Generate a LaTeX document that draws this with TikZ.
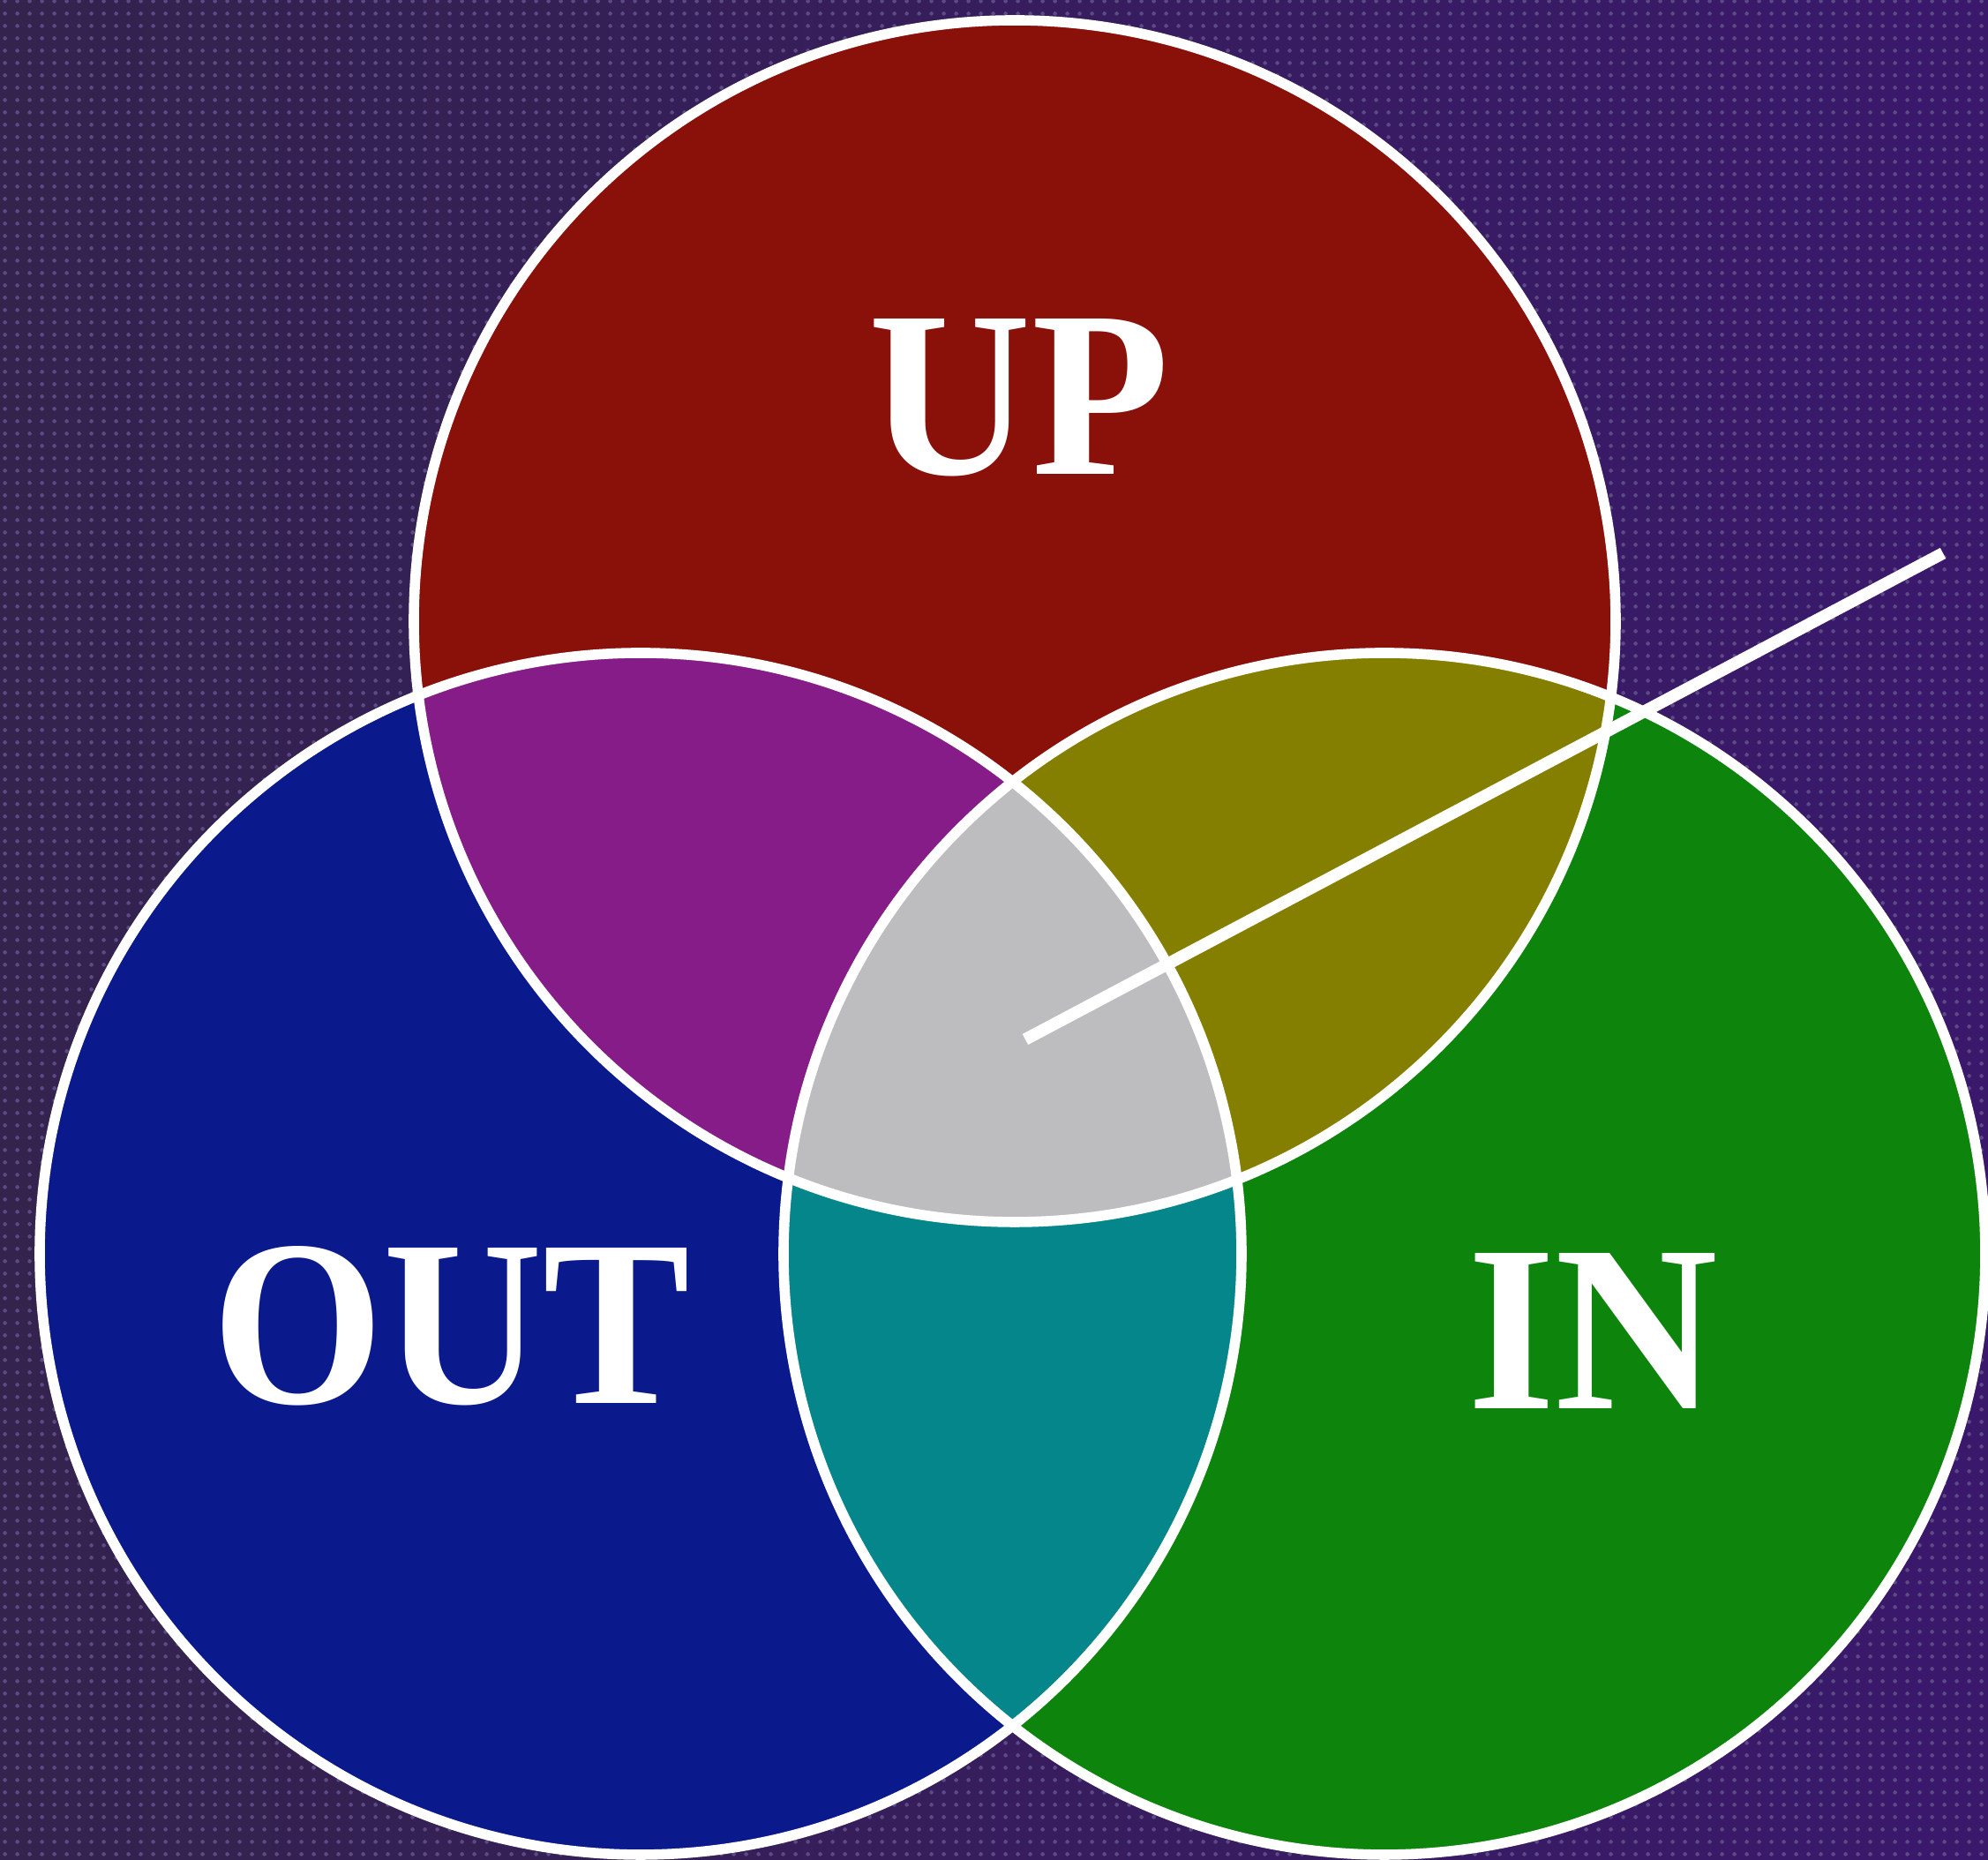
\documentclass[tikz,border=0pt]{standalone}
\usepackage{fontspec}
\setmainfont{Liberation Serif}
\usetikzlibrary{patterns.meta}
\definecolor{bgL}{HTML}{33234D}
\definecolor{bgR}{HTML}{3A186C}
\definecolor{dotc}{HTML}{5C4A85}
\definecolor{upred}{HTML}{8A100A}
\definecolor{outblue}{HTML}{0A1A8C}
\definecolor{ingreen}{HTML}{0D840C}
\definecolor{mixUO}{HTML}{861C88}
\definecolor{mixUI}{HTML}{857F00}
\definecolor{mixOI}{HTML}{05868A}
\definecolor{mixAll}{HTML}{BDBDC0}
\tikzdeclarepattern{
  name=bgdots,
  type=colored,
  bounding box={(0pt,0pt) and (4pt,4pt)},
  tile size={(4pt,4pt)},
  code={\fill[dotc] (2pt,2pt) circle (0.7pt);}
}
\tikzset{
  ring/.style={draw=white, line width=3.3pt},
  pointer/.style={draw=white, line width=3.9pt},
  label/.style={text=white, inner sep=0pt, font=\fontsize{76.5}{80}\selectfont\bfseries}
}
\begin{document}
\begin{tikzpicture}
\useasboundingbox (0,0) rectangle (22.53,21.08);
\shade[left color=bgL, right color=bgR] (0,0) rectangle (22.53,21.08);
\fill[pattern=bgdots] (0,0) rectangle (22.53,21.08);

\coordinate (cu) at (11.50,14.04);
\coordinate (co) at (7.26,6.87);
\coordinate (ci) at (15.69,6.87);
\def\R{6.81}

\fill[upred] (cu) circle (\R);
\fill[outblue] (co) circle (\R);
\fill[ingreen] (ci) circle (\R);
\begin{scope}
  \clip (cu) circle (\R);
  \fill[mixUO] (co) circle (\R);
  \fill[mixUI] (ci) circle (\R);
\end{scope}
\begin{scope}
  \clip (co) circle (\R);
  \fill[mixOI] (ci) circle (\R);
\end{scope}
\begin{scope}
  \clip (cu) circle (\R);
  \clip (co) circle (\R);
  \fill[mixAll] (ci) circle (\R);
\end{scope}

\draw[ring] (cu) circle (\R);
\draw[ring] (co) circle (\R);
\draw[ring] (ci) circle (\R);

\coordinate (pa) at (11.62,9.30);
\coordinate (pb) at (22.02,14.81);
\draw[pointer] (pa) -- (pb);

\node[label, xscale=0.95] (up) at (11.55,16.57) {UP};
\node[label, xscale=0.93] (out) at (5.11,6.05) {OUT};
\node[label, xscale=0.95] (in) at (18.05,5.99) {IN};
\end{tikzpicture}
\end{document}
